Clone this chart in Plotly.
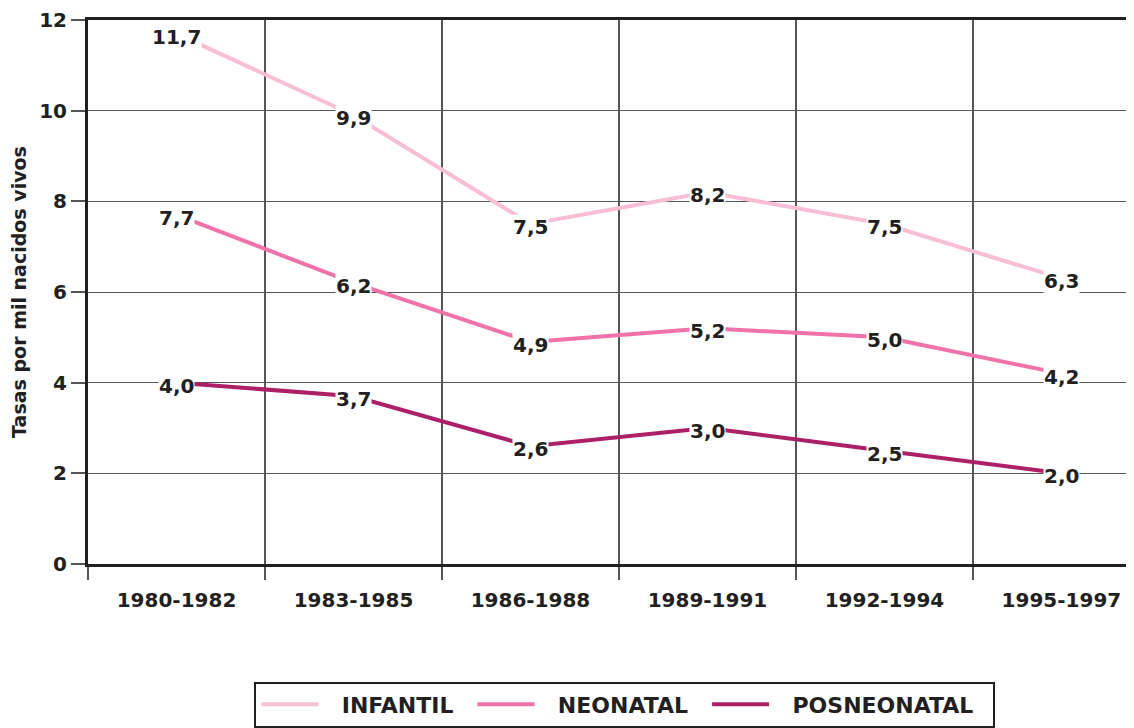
import plotly.graph_objects as go

periodos = ["1980-1982", "1983-1985", "1986-1988", "1989-1991", "1992-1994", "1995-1997"]
infantil = [11.7, 9.9, 7.5, 8.2, 7.5, 6.3]
neonatal = [7.7, 6.2, 4.9, 5.2, 5.0, 4.2]
posneonatal = [4.0, 3.7, 2.6, 3.0, 2.5, 2.0]

series = [
    ("INFANTIL", infantil, "#F7BED6"),
    ("NEONATAL", neonatal, "#EF72A8"),
    ("POSNEONATAL", posneonatal, "#AC2068"),
]

FONT = "DejaVu Sans, Liberation Sans, sans-serif"
NEGRO = "#231F20"
x = list(range(len(periodos)))

fig = go.Figure()
annotations = []
for nombre, valores, color in series:
    # espacios para separar la muestra de línea del texto, como en el original
    fig.add_trace(go.Scatter(
        x=x, y=valores, mode="lines",
        name="\u00a0\u00a0\u2009<b>" + nombre + "</b>\u00a0\u00a0",
        line=dict(color=color, width=4),
    ))
    for xi, v in zip(x, valores):
        annotations.append(dict(
            x=xi, y=v, xref="x", yref="y", showarrow=False,
            text="<b>" + f"{v:.1f}".replace(".", ",") + "</b>",
            font=dict(family=FONT, size=20, color=NEGRO),
            bgcolor="white", borderpad=0, yshift=-3,
        ))

# la página deja 8 px de margen en el body: figura algo más pequeña
fig.update_layout(
    width=1126, height=720,
    margin=dict(l=80, r=0, t=12, b=162),
    paper_bgcolor="white", plot_bgcolor="white",
    font=dict(family=FONT, color=NEGRO),
    annotations=annotations,
    showlegend=True,
    legend=dict(
        orientation="h", x=0.159, xanchor="left", y=-0.216, yanchor="top",
        bordercolor=NEGRO, borderwidth=2, bgcolor="white",
        font=dict(family=FONT, size=22, color=NEGRO),
        itemwidth=57, tracegroupgap=0,
    ),
)

fig.update_xaxes(
    range=[-0.5, 5.41], automargin=False,
    tickmode="array", tickvals=x, ticktext=["<b>" + p + "</b>" for p in periodos],
    tickfont=dict(family=FONT, size=20, color=NEGRO),
    ticks="", ticklabelstandoff=16,
    showgrid=False, zeroline=False,
    showline=True, linecolor=NEGRO, linewidth=3, mirror=True,
    minor=dict(tickmode="array", tickvals=[i - 0.5 for i in x],
               ticks="outside", ticklen=13, tickcolor="#555555", tickwidth=1.5,
               showgrid=True, gridcolor="#555555", gridwidth=1.5),
)

fig.update_yaxes(
    range=[0, 12], automargin=False,
    tickmode="array", tickvals=[0, 2, 4, 6, 8, 10, 12],
    ticktext=["<b>%d</b>" % v for v in [0, 2, 4, 6, 8, 10, 12]],
    tickfont=dict(family=FONT, size=20, color=NEGRO),
    ticks="outside", ticklen=14, tickcolor="#555555", tickwidth=1.5,
    showgrid=True, gridcolor="#555555", gridwidth=1.2,
    zeroline=False,
    showline=True, linecolor=NEGRO, linewidth=3,
    title=dict(text="<b>Tasas por mil nacidos vivos</b>",
               font=dict(family=FONT, size=19, color=NEGRO), standoff=10),
)

fig.write_html("out.html")
